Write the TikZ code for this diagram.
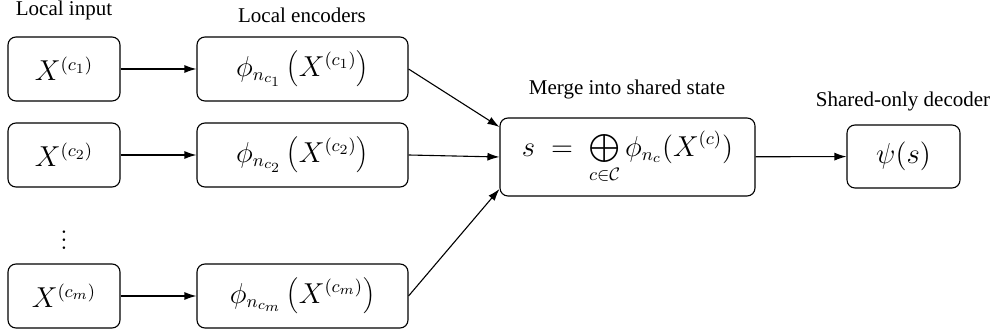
\documentclass[tikz,border=0pt]{standalone}
\usepackage[no-math]{fontspec}
\newfontfamily\timesfont{Liberation Serif}
\usetikzlibrary{arrows.meta}
\begin{document}
\begin{tikzpicture}[x=0.5pt,y=-0.5pt,
  box/.style={draw,rounded corners=4pt,line width=0.55pt,inner sep=0pt,font=\fontsize{13.5}{16}\selectfont},
  inbox/.style={box,minimum width=56pt,minimum height=32pt},
  encbox/.style={box,minimum width=105.5pt,minimum height=32pt},
  lbl/.style={font=\timesfont\fontsize{10.5}{12}\selectfont,inner sep=0pt},
  arr/.style={-{Latex[length=6pt,width=4pt]},line width=0.55pt}]
\useasboundingbox (0,0) rectangle (995,335);
\node[lbl] (l1) at (64,10) {Local input};
\node[lbl] (l2) at (302,15) {Local encoders};
\node[lbl] (l3) at (627,89) {Merge into shared state};
\node[lbl] (l4) at (903,101) {Shared-only decoder};
\node[inbox] (x1) at (64,69) {$X^{(c_1)}$};
\node[inbox] (x2) at (64,155) {$X^{(c_2)}$};
\node[inbox] (xm) at (64,296) {$X^{(c_m)}$};
\node[font=\fontsize{13.5}{16}\selectfont,inner sep=0pt] (dots) at (64,234) {$\vdots$};
\node[encbox] (e1) at (302.5,69) {$\phi_{n_{c_1}}\left(X^{(c_1)}\right)$};
\node[encbox] (e2) at (302.5,155) {$\phi_{n_{c_2}}\left(X^{(c_2)}\right)$};
\node[encbox] (em) at (302.5,296) {$\phi_{n_{c_m}}\left(X^{(c_m)}\right)$};
\node[box,minimum width=127.5pt,minimum height=39pt] (mg) at (627.5,157) {$\displaystyle s \;=\; \bigoplus_{c\in\mathcal{C}} \phi_{n_c}(X^{(c)})$};
\node[box,minimum width=56.5pt,minimum height=31.5pt] (dec) at (903.5,156.5) {$\psi(s)$};
\draw[arr] (x1) -- (e1);
\draw[arr] (x2) -- (e2);
\draw[arr] (xm) -- (em);
\draw[arr] (e1.east) -- ([yshift=15pt]mg.west);
\draw[arr] (e2.east) -- (mg.west);
\draw[arr] (em.east) -- ([yshift=-16pt]mg.west);
\draw[arr] (mg) -- (dec);
\end{tikzpicture}
\end{document}
